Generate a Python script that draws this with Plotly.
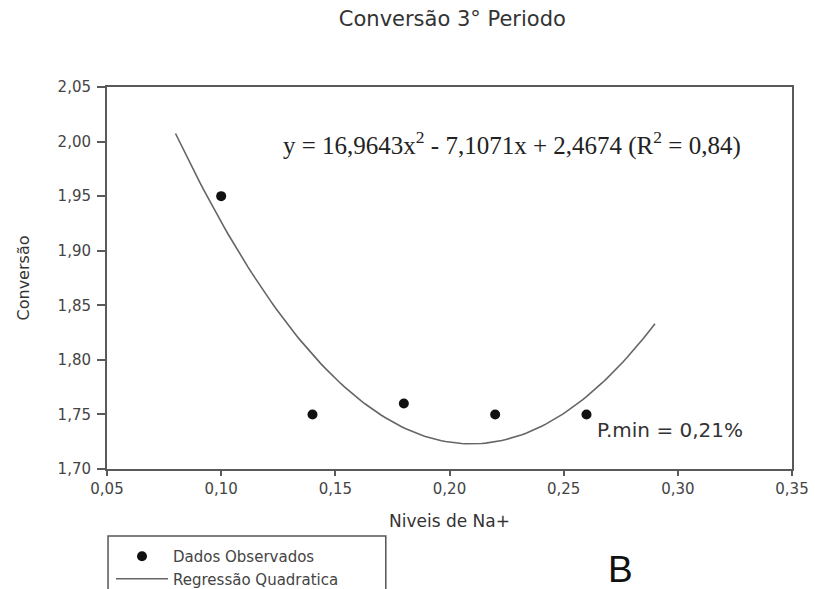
import plotly.graph_objects as go

# Observed data
x_obs = [0.10, 0.14, 0.18, 0.22, 0.26]
y_obs = [1.95, 1.75, 1.76, 1.75, 1.75]

# Quadratic regression coefficients (as printed on the chart)
coef_a, coef_b, coef_c = 16.9643, -7.1071, 2.4674
x_fit_start, x_fit_end, n_fit = 0.08, 0.29, 120

x_ticks = [0.05, 0.10, 0.15, 0.20, 0.25, 0.30, 0.35]
x_tick_labels = ["0,05", "0,10", "0,15", "0,20", "0,25", "0,30", "0,35"]
y_ticks = [1.70, 1.75, 1.80, 1.85, 1.90, 1.95, 2.00, 2.05]
y_tick_labels = ["1,70", "1,75", "1,80", "1,85", "1,90", "1,95", "2,00", "2,05"]

x_fit = [x_fit_start + i * (x_fit_end - x_fit_start) / (n_fit - 1) for i in range(n_fit)]
y_fit = [coef_a * x * x + coef_b * x + coef_c for x in x_fit]

font_sans = "DejaVu Sans, Liberation Sans, Arial, sans-serif"
axis_col = "#5a5a5a"

fig = go.Figure()
fig.add_trace(go.Scatter(
    x=x_obs, y=y_obs, mode="markers", name="Dados Observados",
    marker=dict(color="#111111", size=10),
))
fig.add_trace(go.Scatter(
    x=x_fit, y=y_fit, mode="lines", name="Regressão Quadratica",
    line=dict(color="#666666", width=1.6),
))

fig.update_layout(
    width=815, height=589,
    margin=dict(l=107, r=23, t=87, b=120, autoexpand=False),
    paper_bgcolor="white", plot_bgcolor="white",
    font=dict(family=font_sans, color="#333333", size=12),
    title=dict(text="Conversão 3° Periodo", x=0.555, xanchor="center",
               y=0.969, yanchor="middle",
               font=dict(family=font_sans, size=21, color="#333333")),
    showlegend=True,
    legend=dict(
        x=-0.0146, xanchor="left", y=-0.186, yanchor="top",
        borderwidth=0, bgcolor="rgba(0,0,0,0)",
        font=dict(family=font_sans, size=15, color="#444444"),
        tracegroupgap=0, itemwidth=52, indentation=14,
    ),
    xaxis=dict(
        range=[0.05, 0.35], tickvals=x_ticks, ticktext=x_tick_labels,
        showgrid=False, zeroline=False, showline=True, mirror=True,
        linecolor=axis_col, linewidth=2, ticks="outside", ticklen=5,
        tickcolor=axis_col, tickwidth=1.5,
        tickfont=dict(size=15, color="#444444"),
        title=dict(text="Niveis de Na+", standoff=18,
                   font=dict(size=17, color="#333333")),
    ),
    yaxis=dict(
        range=[1.70, 2.05], tickvals=y_ticks, ticktext=y_tick_labels,
        showgrid=False, zeroline=False, showline=True, mirror=True,
        linecolor=axis_col, linewidth=2, ticks="outside", ticklen=8,
        tickcolor=axis_col, tickwidth=1.5, ticklabelstandoff=3,
        tickfont=dict(size=15, color="#444444"),
        title=dict(text="Conversão", standoff=24,
                   font=dict(size=16, color="#333333")),
    ),
    shapes=[dict(
        type="rect", xref="paper", yref="paper",
        x0=0.0015, x1=0.407, y0=-0.1754, y1=-0.40,
        line=dict(color="#555555", width=1.5), fillcolor="rgba(0,0,0,0)",
    )],
)

fig.add_annotation(
    x=0.591, xref="paper", y=1.9985, yref="y", xanchor="center", yanchor="middle",
    text="y = 16,9643x<sup>2</sup> - 7,1071x + 2,4674 (R<sup>2</sup> = 0,84)",
    showarrow=False,
    font=dict(family="Liberation Serif, Times New Roman, serif", size=25, color="#222222"),
)
fig.add_annotation(
    x=0.2637, xref="x", y=1.7353, yref="y", xanchor="left", yanchor="middle",
    text="P.min = 0,21%", showarrow=False,
    font=dict(family=font_sans, size=20, color="#333333"),
)
fig.add_annotation(
    x=0.750, xref="paper", y=-0.262, yref="paper", xanchor="center", yanchor="middle",
    text="B", showarrow=False,
    font=dict(family="Liberation Sans, Arial, sans-serif", size=37, color="#111111"),
)

fig.write_html("out.html")
